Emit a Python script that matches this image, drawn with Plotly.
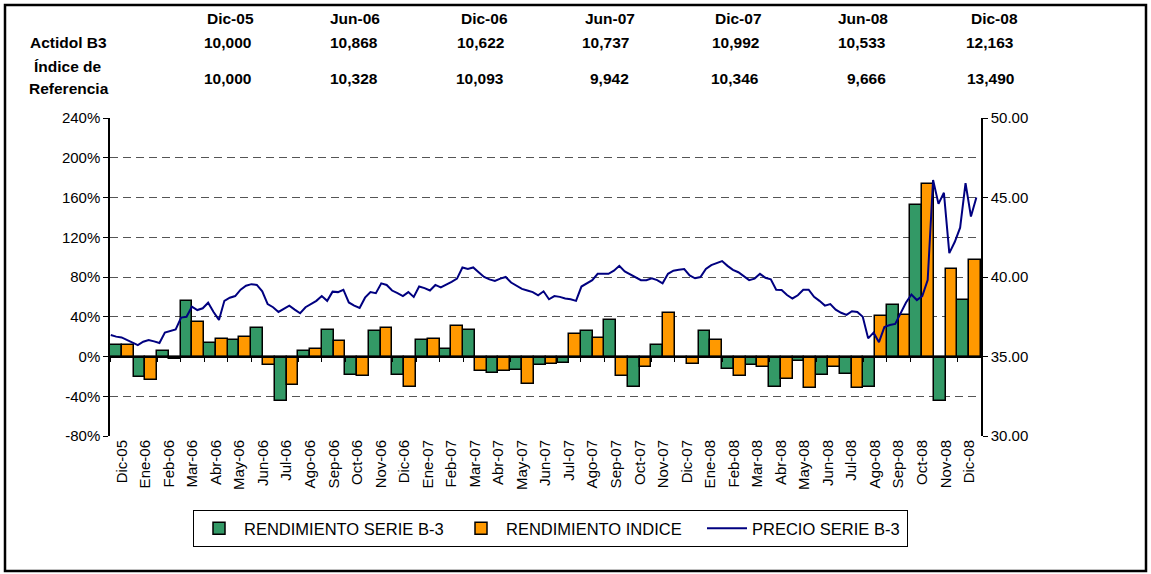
import pandas as pd
import plotly.graph_objects as go

# ---------------- data ----------------
months = ["Dic-05", "Ene-06", "Feb-06", "Mar-06", "Abr-06", "May-06", "Jun-06", "Jul-06",
          "Ago-06", "Sep-06", "Oct-06", "Nov-06", "Dic-06", "Ene-07", "Feb-07", "Mar-07",
          "Abr-07", "May-07", "Jun-07", "Jul-07", "Ago-07", "Sep-07", "Oct-07", "Nov-07",
          "Dic-07", "Ene-08", "Feb-08", "Mar-08", "Abr-08", "May-08", "Jun-08", "Jul-08",
          "Ago-08", "Sep-08", "Oct-08", "Nov-08", "Dic-08"]

rend_serie = [12, -21, 6, 56, 14, 17, 29, -45, 6, 27, -19, 26, -19, 17, 7.5, 27,
              -17, -14, -8.5, -7, 26, 37, -31, 12, -2, 26, -13, -8.5, -31, -4.5,
              -19, -17.5, -30.5, 52, 152, -45, 57]

rend_indice = [12, -24, -2.5, 35, 18, 20, -9, -29, 8, 16, -20, 29, -31, 17.5, 31, -15,
               -15, -28, -8, 23, 19, -20, -11, 44, -8, 17, -20, -11, -23, -32,
               -11, -32, 41, 42, 174, 88, 97]

# weekly closing prices (Fridays), Dec-2005 .. Dec-2008
price_dates = pd.date_range("2005-12-02", "2008-12-26", freq="W-FRI")
price_values = [
    36.35, 36.25, 36.2, 36.05, 35.85, 35.72, 35.93, 36.04, 35.95, 35.85,
    36.5, 36.6, 36.7, 37.45, 37.5, 38.13, 37.92, 38.03, 38.38, 37.8,
    37.3, 38.5, 38.7, 38.8, 39.2, 39.45, 39.55, 39.5, 39.1, 38.3,
    38.1, 37.8, 38.0, 38.2, 37.95, 37.72, 38.1, 38.3, 38.5, 38.8,
    38.5, 39.08, 39.05, 39.2, 38.4, 38.2, 38.05, 38.7, 39.05, 38.98,
    39.6, 39.5, 39.15, 38.98, 38.8, 39.05, 38.75, 39.4, 39.3, 39.15,
    39.5, 39.35, 39.5, 39.7, 39.9, 40.6, 40.5, 40.6, 40.3, 40.0,
    39.85, 39.75, 39.9, 40.0, 39.65, 39.45, 39.25, 39.15, 39.05, 38.85,
    39.1, 38.6, 38.8, 38.75, 38.65, 38.6, 38.5, 39.4, 39.6, 39.8,
    40.2, 40.2, 40.2, 40.4, 40.7, 40.35, 40.15, 40.0, 39.8, 39.8,
    39.92, 39.8, 39.6, 40.2, 40.4, 40.45, 40.5, 40.1, 39.92, 40.0,
    40.5, 40.75, 40.9, 41.0, 40.7, 40.45, 40.3, 40.05, 39.8, 39.9,
    40.2, 39.95, 39.85, 39.2, 39.18, 38.87, 38.65, 38.85, 39.2, 39.2,
    38.75, 38.5, 38.2, 38.3, 37.95, 37.75, 37.62, 37.85, 37.8, 37.5,
    36.14, 36.5, 35.9, 36.85, 36.98, 37.05, 37.7, 38.4, 38.9, 38.55,
    38.8, 39.8, 46.1, 44.6, 45.3, 41.5, 42.2, 43.1, 45.9, 43.8,
    45.0,
]

# left axis ticks (percent)
pct_ticks = [-80, -40, 0, 40, 80, 120, 160, 200, 240]
pct_labels = [f"{v}%" for v in pct_ticks]

# summary table
table_cols = ["Dic-05", "Jun-06", "Dic-06", "Jun-07", "Dic-07", "Jun-08", "Dic-08"]
actidol_b3 = ["10,000", "10,868", "10,622", "10,737", "10,992", "10,533", "12,163"]
indice_ref = ["10,000", "10,328", "10,093", "9,942", "10,346", "9,666", "13,490"]

# ---------------- figure ----------------
W, H = 1151, 574
L, R, T, B = 110, 170, 118, 138
PW, PH = W - L - R, H - T - B

def px_x(px):
    return (px - L) / PW

def px_y(py):
    return (H - B - py) / PH

FONT = "Liberation Sans, Arial, sans-serif"
GREEN = "#339966"
ORANGE = "#FF9900"
NAVY = "#000080"

fig = go.Figure()
fig.add_trace(go.Bar(x=months, y=rend_serie, name="RENDIMIENTO SERIE B-3",
                     marker=dict(color=GREEN, line=dict(color="black", width=1.5)),
                     legendwidth=207))
fig.add_trace(go.Bar(x=months, y=rend_indice, name="RENDIMIENTO INDICE",
                     marker=dict(color=ORANGE, line=dict(color="black", width=1.5)),
                     legendwidth=191))
fig.add_trace(go.Scatter(x=price_dates, y=price_values, name="PRECIO SERIE B-3",
                         mode="lines", line=dict(color=NAVY, width=2),
                         xaxis="x2", yaxis="y2", legendwidth=150))

n = len(months)
fig.update_layout(
    width=W, height=H,
    margin=dict(l=L, r=R, t=T, b=B),
    paper_bgcolor="white", plot_bgcolor="white",
    font=dict(family=FONT, size=14, color="black"),
    barmode="group", bargap=0, bargroupgap=0,
    showlegend=True,
    legend=dict(orientation="h", x=px_x(193), y=px_y(510), xanchor="left", yanchor="top",
                bordercolor="black", borderwidth=1, font=dict(size=16.5, family=FONT),
                itemwidth=40, tracegroupgap=0),
    xaxis=dict(type="category", range=[-0.5, n - 0.5], tickangle=-90, showgrid=False,
               showline=False, ticks="", zeroline=False,
               tickfont=dict(size=15, family=FONT)),
    xaxis2=dict(type="date", overlaying="x", range=["2005-12-01", "2009-01-01"],
                visible=False),
    xaxis3=dict(overlaying="x", anchor="free", position=0.25, range=[-0.5, n - 0.5],
                tickmode="array", tickvals=[i - 0.5 for i in range(n + 1)],
                ticks="outside", ticklen=5, tickcolor="black", tickwidth=1,
                showticklabels=False, showline=True, linecolor="black", linewidth=1.5,
                showgrid=False, zeroline=False),
    yaxis=dict(range=[-80, 240], tickmode="array", tickvals=pct_ticks, ticktext=pct_labels,
               showgrid=True, gridcolor="#555555", griddash="8px,5px", gridwidth=1,
               zeroline=False, showline=True, linecolor="black", linewidth=1.5,
               ticks="outside", ticklen=5, tickcolor="black",
               tickfont=dict(size=15, family=FONT)),
    yaxis2=dict(range=[30, 50], dtick=5, tickformat=".2f", overlaying="y", side="right",
                showgrid=False, zeroline=False, showline=True, linecolor="black",
                linewidth=1.5, ticks="outside", ticklen=5, tickcolor="black",
                tickfont=dict(size=15, family=FONT)),
)

# dummy trace to activate xaxis3 (boundary ticks on the zero line)
fig.add_trace(go.Scatter(x=[-0.5, n - 0.5], y=[0, 0], xaxis="x3", yaxis="y", mode="lines",
                         line=dict(color="black", width=1.5), showlegend=False,
                         hoverinfo="skip"))

# table annotations
col_right = [253, 380, 506, 631, 761, 888, 1016]
col_center = [230, 355, 484, 610, 738, 863, 994]
ann = []
for c, xr, xc, a, b in zip(table_cols, col_right, col_center, actidol_b3, indice_ref):
    ann.append(dict(text=f"<b>{c}</b>", x=px_x(xc), y=px_y(18), xanchor="center", yanchor="middle"))
    ann.append(dict(text=f"<b>{a}</b>", x=px_x(xr), y=px_y(43), xanchor="right", yanchor="middle"))
    ann.append(dict(text=f"<b>{b}</b>", x=px_x(xr), y=px_y(78), xanchor="right", yanchor="middle"))
ann.append(dict(text="<b>Actidol B3</b>", x=px_x(68), y=px_y(43), xanchor="center", yanchor="middle"))
ann.append(dict(text="<b>Índice de</b>", x=px_x(68), y=px_y(67), xanchor="center", yanchor="middle"))
ann.append(dict(text="<b>Referencia</b>", x=px_x(69), y=px_y(88), xanchor="center", yanchor="middle"))
for a in ann:
    a.update(xref="paper", yref="paper", showarrow=False,
             font=dict(family=FONT, size=15.5, color="black"))
fig.update_layout(annotations=ann)

# outer frame
fig.add_shape(type="rect", xref="paper", yref="paper",
              x0=px_x(5), x1=px_x(1146), y0=px_y(571), y1=px_y(5),
              line=dict(color="black", width=2.5), layer="above")

fig.write_html("out.html", config={"displayModeBar": False},
               post_script="document.body.style.margin='0px';")
